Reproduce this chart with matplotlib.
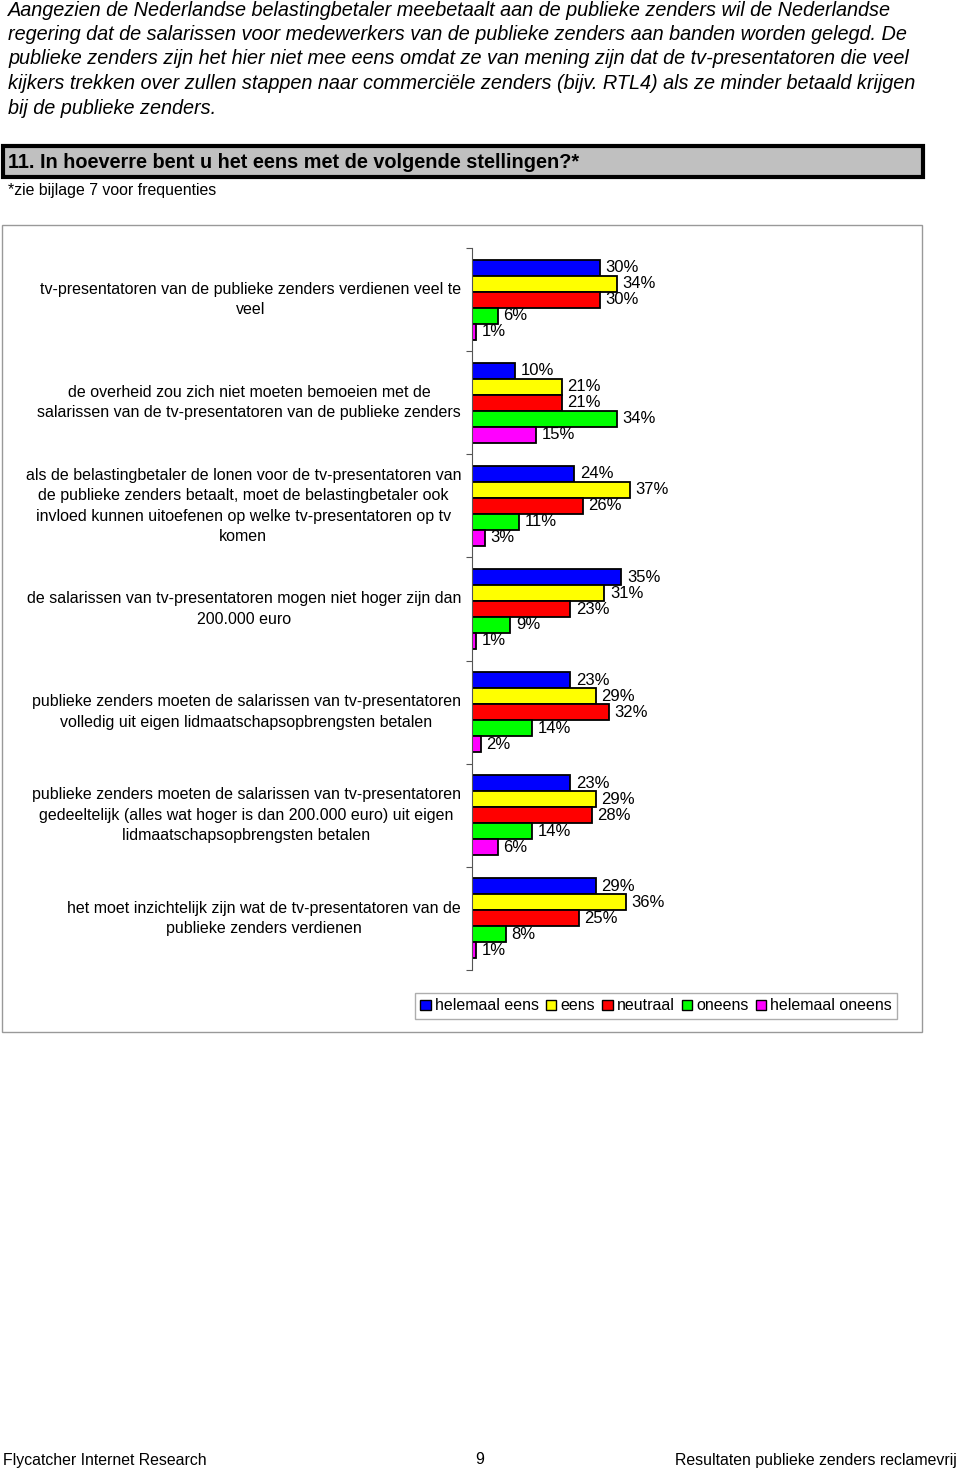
import matplotlib.pyplot as plt
from matplotlib.patches import Rectangle, Patch

plt.rcParams['font.family'] = ['Liberation Sans', 'DejaVu Sans']

W, H = 960, 1470

intro = [
    "Aangezien de Nederlandse belastingbetaler meebetaalt aan de publieke zenders wil de Nederlandse",
    "regering dat de salarissen voor medewerkers van de publieke zenders aan banden worden gelegd. De",
    "publieke zenders zijn het hier niet mee eens omdat ze van mening zijn dat de tv-presentatoren die veel",
    "kijkers trekken over zullen stappen naar commerciële zenders (bijv. RTL4) als ze minder betaald krijgen",
    "bij de publieke zenders.",
]
question = "11. In hoeverre bent u het eens met de volgende stellingen?*"
note = "*zie bijlage 7 voor frequenties"

statements = [
    "tv-presentatoren van de publieke zenders verdienen veel te\nveel",
    "de overheid zou zich niet moeten bemoeien met de\nsalarissen van de tv-presentatoren van de publieke zenders",
    "als de belastingbetaler de lonen voor de tv-presentatoren van\nde publieke zenders betaalt, moet de belastingbetaler ook\ninvloed kunnen uitoefenen op welke tv-presentatoren op tv\nkomen",
    "de salarissen van tv-presentatoren mogen niet hoger zijn dan\n200.000 euro",
    "publieke zenders moeten de salarissen van tv-presentatoren\nvolledig uit eigen lidmaatschapsopbrengsten betalen",
    "publieke zenders moeten de salarissen van tv-presentatoren\ngedeeltelijk (alles wat hoger is dan 200.000 euro) uit eigen\nlidmaatschapsopbrengsten betalen",
    "het moet inzichtelijk zijn wat de tv-presentatoren van de\npublieke zenders verdienen",
]
answers = ["helemaal eens", "eens", "neutraal", "oneens", "helemaal oneens"]
colors = ["#0000ff", "#ffff00", "#ff0000", "#00ff00", "#ff00ff"]

helemaal_eens = [30, 10, 24, 35, 23, 23, 29]
eens = [34, 21, 37, 31, 29, 29, 36]
neutraal = [30, 21, 26, 23, 32, 28, 25]
oneens = [6, 34, 11, 9, 14, 14, 8]
helemaal_oneens = [1, 15, 3, 1, 2, 6, 1]
series = [helemaal_eens, eens, neutraal, oneens, helemaal_oneens]

footer_left = "Flycatcher Internet Research"
footer_mid = "9"
footer_right = "Resultaten publieke zenders reclamevrij"


def fx(px):
    return px / W


def fy(py):
    return 1 - py / H


fig = plt.figure(figsize=(W / 100, H / 100), dpi=100)

# intro paragraph
for i, line in enumerate(intro):
    fig.text(fx(8), fy(10 + i * 24.5), line, fontsize=14.3, style='italic',
             va='center', ha='left')

# question header box
fig.patches.append(Rectangle((fx(3), fy(177)), fx(920), 31 / H, transform=fig.transFigure,
                             facecolor='#c0c0c0', edgecolor='black', linewidth=3))
fig.text(fx(8), fy(162), question, fontsize=14.3, fontweight='bold', va='center')
fig.text(fx(8), fy(190), note, fontsize=11.4, va='center')

# chart frame
fig.patches.append(Rectangle((fx(2), fy(1032)), fx(920), 807 / H, transform=fig.transFigure,
                             facecolor='none', edgecolor='#999999', linewidth=1))

# bars
ax = fig.add_axes([fx(472), fy(970), fx(427), 722 / H])
n = len(statements)
bh = 0.155
for j, (vals, c) in enumerate(zip(series, colors)):
    ys = [i + (j - 2) * bh for i in range(n)]
    ax.barh(ys, vals, height=bh, color=c, edgecolor='black', linewidth=1.3)
    for y, v in zip(ys, vals):
        ax.text(v + 1.3, y, f"{v}%", va='center', ha='left', fontsize=12)

ax.set_xlim(0, 100)
ax.set_ylim(n - 0.5, -0.5)
ax.set_yticks([k - 0.5 for k in range(n + 1)])
ax.set_yticklabels([])
ax.tick_params(axis='y', direction='out', length=4, color='#555555')
ax.set_xticks([])
for s in ['top', 'right', 'bottom']:
    ax.spines[s].set_visible(False)
ax.spines['left'].set_color('#555555')
ax.patch.set_alpha(0)

# statement labels
for i, s in enumerate(statements):
    yc = 248 + (i + 0.5) * 722 / n
    fig.text(fx(461), fy(yc), s, fontsize=11.5, ha='right', va='center',
             multialignment='center', linespacing=1.45)

# legend
handles = [Patch(facecolor=c, edgecolor='black', label=a) for a, c in zip(answers, colors)]
fig.legend(handles=handles, loc='center', bbox_to_anchor=(fx(656), fy(1006)), ncol=5,
           fontsize=11.5, frameon=True, fancybox=False, edgecolor='#999999',
           handlelength=0.65, handleheight=0.65, handletextpad=0.25, columnspacing=0.45,
           borderpad=0.35, borderaxespad=0)

# footer
fig.text(fx(3), fy(1460), footer_left, fontsize=11.4, va='center', ha='left')
fig.text(fx(480), fy(1460), footer_mid, fontsize=11.4, va='center', ha='center')
fig.text(fx(957), fy(1460), footer_right, fontsize=11.4, va='center', ha='right')

fig.savefig('out.png', dpi=100)
